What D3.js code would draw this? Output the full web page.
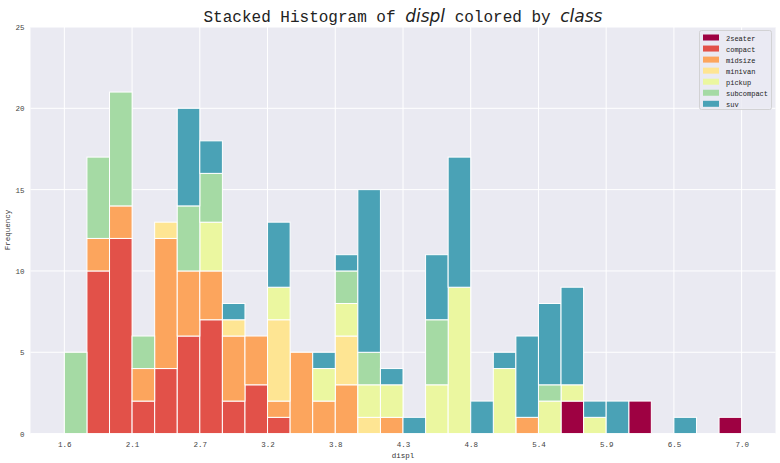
<!DOCTYPE html>
<html><head><meta charset="utf-8">
<script src="https://cdn.jsdelivr.net/npm/d3@7"></script>
<style>body{margin:0;background:#fff}svg{display:block}</style>
</head><body><svg id="c" width="780" height="463"></svg>
<script>
const classes = ["2seater","compact","midsize","minivan","pickup","subcompact","suv"];
const binEdges = [1.6,1.78,1.96,2.14,2.32,2.5,2.68,2.86,3.04,3.22,3.4,3.58,3.76,3.94,4.12,4.3,4.48,4.66,4.84,5.02,5.2,5.38,5.56,5.74,5.92,6.1,6.28,6.46,6.64,6.82,7.0];
const tickValues = [1.6,2.14,2.68,3.22,3.76,4.3,4.84,5.38,5.92,6.46,7.0];
const tickLabels = ["1.6","2.1","2.7","3.2","3.8","4.3","4.8","5.4","5.9","6.5","7.0"];
const yTicks = [0,5,10,15,20,25];
//                 bins 0..29
const twoSeater  = [0,0,0,0,0,0,0,0,0,0,0,0,0,0,0,0,0,0,0,0,0,0,2,0,0,2,0,0,0,1];
const compact    = [0,10,12,2,4,6,7,2,3,1,0,0,0,0,0,0,0,0,0,0,0,0,0,0,0,0,0,0,0,0];
const midsize    = [0,2,2,2,8,4,3,4,3,1,5,2,3,0,1,0,0,0,0,0,1,0,0,0,0,0,0,0,0,0];
const minivan    = [0,0,0,0,1,0,0,1,0,5,0,0,3,1,0,0,0,0,0,0,0,0,0,0,0,0,0,0,0,0];
const pickup     = [0,0,0,0,0,0,3,0,0,2,0,2,2,2,2,0,3,9,0,4,0,2,1,1,0,0,0,0,0,0];
const subcompact = [5,5,7,2,0,4,3,0,0,0,0,0,2,2,0,0,4,0,0,0,0,1,0,0,0,0,0,0,0,0];
const suv        = [0,0,0,0,0,6,2,1,0,4,0,1,1,10,1,1,4,8,2,1,5,5,6,1,2,0,0,1,0,0];
const colors = ["#9e0142","#e25149","#fca55d","#fee593","#ebf7a0","#a5daa4","#4aa2b6"];

const series = [twoSeater,compact,midsize,minivan,pickup,subcompact,suv];
const rows = binEdges.slice(0,-1).map((e,i)=>{
  const r = {x0:e, x1:binEdges[i+1]};
  classes.forEach((c,k)=> r[c]=series[k][i]);
  return r;
});

const svg = d3.select("#c");
const L=30.5, R=775.5, T=27, B=433.6;
const x = d3.scaleLinear().domain([1.33,7.27]).range([L,R]);
const y = d3.scaleLinear().domain([0,25]).range([B,T]);

svg.append("rect").attr("x",L).attr("y",T).attr("width",R-L).attr("height",B-T).attr("fill","#eaeaf2");
svg.append("g").selectAll("line").data(tickValues).join("line")
  .attr("x1",d=>x(d)).attr("x2",d=>x(d)).attr("y1",T).attr("y2",B)
  .attr("stroke","#fff").attr("stroke-width",1);
svg.append("g").selectAll("line").data(yTicks).join("line")
  .attr("x1",L).attr("x2",R).attr("y1",d=>y(d)).attr("y2",d=>y(d))
  .attr("stroke","#fff").attr("stroke-width",1);

const stack = d3.stack().keys(classes)(rows);
svg.append("g").selectAll("g").data(stack).join("g")
  .attr("fill",(d,i)=>colors[i])
  .selectAll("rect").data(d=>d).join("rect")
  .attr("x",d=>x(d.data.x0)).attr("width",d=>x(d.data.x1)-x(d.data.x0))
  .attr("y",d=>y(d[1])).attr("height",d=>y(d[0])-y(d[1]))
  .attr("stroke","#fff").attr("stroke-width",1);

const font = "'Liberation Mono', 'DejaVu Sans Mono', monospace";
const xa = svg.append("g").attr("transform",`translate(0,${B})`)
  .call(d3.axisBottom(x).tickValues(tickValues).tickFormat((d,i)=>tickLabels[i]).tickSize(0).tickPadding(8));
xa.select(".domain").remove();
xa.selectAll("text").attr("font-family",font).attr("font-size",7.5).attr("fill","#444");
const ya = svg.append("g").attr("transform",`translate(${L},0)`)
  .call(d3.axisLeft(y).tickValues(yTicks).tickSize(0).tickPadding(6));
ya.select(".domain").remove();
ya.selectAll("text").attr("font-family",font).attr("font-size",7.5).attr("fill","#444");

svg.append("text").attr("x",(L+R)/2).attr("y",458).attr("text-anchor","middle")
  .attr("font-family",font).attr("font-size",7.5).attr("fill","#333").text("displ");
svg.append("text").attr("transform",`translate(10,230) rotate(-90)`).attr("text-anchor","middle")
  .attr("font-family",font).attr("font-size",7.5).attr("fill","#333").text("Frequency");

// title
const t = svg.append("text").attr("x",(L+R)/2).attr("y",22).attr("text-anchor","middle")
  .attr("font-family",font).attr("font-size",16).attr("fill","#222");
t.append("tspan").text("Stacked Histogram of ");
t.append("tspan").attr("font-family","'DejaVu Sans'").attr("font-style","italic").attr("font-size",17).text("displ");
t.append("tspan").text(" colored by ");
t.append("tspan").attr("font-family","'DejaVu Sans'").attr("font-style","italic").attr("font-size",17).text("class");

// legend
const lg = svg.append("g");
lg.append("rect").attr("x",699.5).attr("y",30.5).attr("width",72).attr("height",79).attr("rx",2)
  .attr("fill","#eaeaf2").attr("fill-opacity",0.8).attr("stroke","#ccc").attr("stroke-width",0.8);
const items = lg.selectAll("g").data(classes).join("g")
  .attr("transform",(d,i)=>`translate(703,${38+i*11.05})`);
items.append("rect").attr("x",0).attr("y",-3.5).attr("width",16).attr("height",6).attr("fill",(d,i)=>colors[i]);
items.append("text").attr("x",23).attr("y",2.5).attr("font-family",font).attr("font-size",7).attr("fill","#222").text(d=>d);
</script></body></html>
